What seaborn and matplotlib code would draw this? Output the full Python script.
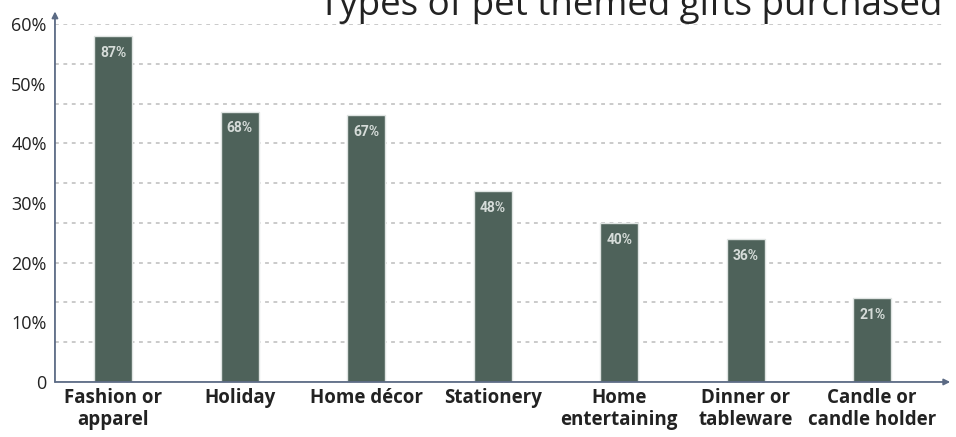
import matplotlib
matplotlib.use("Agg")
import matplotlib.pyplot as plt
import seaborn as sns
import pandas as pd

# Share of respondents buying each kind of pet-themed gift
categories = ["Fashion or\napparel", "Holiday", "Home décor", "Stationery",
              "Home\nentertaining", "Dinner or\ntableware", "Candle or\ncandle holder"]
values = [87, 68, 67, 48, 40, 36, 21]
value_labels = ["87%", "68%", "67%", "48%", "40%", "36%", "21%"]

# Axis scale: dashed guides every 10 units, labelled ticks every 15 units
grid_positions = [10, 20, 30, 40, 50, 60, 70, 80, 90]
tick_positions = [0, 15, 30, 45, 60, 75, 90]
tick_labels = ["0", "10%", "20%", "30%", "40%", "50%", "60%"]

title = "Types of pet themed gifts purchased"

bar_color = "#4e625a"
axis_color = "#5b6a84"

sns.set_theme(style="white")
plt.rcParams["font.family"] = ["Open Sans", "DejaVu Sans"]

df = pd.DataFrame({"category": categories, "value": values})

fig = plt.figure(figsize=(9.56, 4.37), dpi=100)
ax = fig.add_axes([0.0575, 0.1259, 0.9290, 0.8192])

sns.barplot(data=df, x="category", y="value", color=bar_color, width=0.30,
            saturation=1, edgecolor="#dfe4e2", linewidth=1.0, ax=ax, zorder=3)

ax.set_xlim(-0.46, 6.56)
ax.set_ylim(0, 90)

# Dashed horizontal guides
for g in grid_positions:
    ax.axhline(g, color="#bcbcbc", linestyle=(0, (2.5, 3)), linewidth=1.1, zorder=1)

ax.set_yticks(tick_positions)
ax.set_yticklabels(tick_labels, fontsize=13, color="#222222")
ax.tick_params(axis="y", length=0, pad=6)
ax.tick_params(axis="x", length=0, pad=4.5)
for lbl in ax.get_xticklabels():
    lbl.set_fontsize(13.5)
    lbl.set_fontweight("bold")
    lbl.set_color("#222222")
    lbl.set_linespacing(1.15)
ax.set_xlabel("")
ax.set_ylabel("")

for side in ["top", "right", "left", "bottom"]:
    ax.spines[side].set_visible(False)

# Axis lines with arrow heads
ax.annotate("", xy=(0, 1.035), xytext=(0, 0), xycoords="axes fraction",
            arrowprops=dict(arrowstyle="-|>", color=axis_color, lw=1.3,
                            mutation_scale=9, shrinkA=0, shrinkB=0),
            annotation_clip=False)
ax.annotate("", xy=(1.008, 0), xytext=(0, 0), xycoords="axes fraction",
            arrowprops=dict(arrowstyle="-|>", color=axis_color, lw=1.3,
                            mutation_scale=9, shrinkA=0, shrinkB=0),
            annotation_clip=False)

# Value labels inside the top of each bar
for i, (v, txt) in enumerate(zip(values, value_labels)):
    ax.annotate(txt, xy=(i, v), xytext=(0, -7), textcoords="offset points",
                ha="center", va="top", fontsize=10, fontweight="bold",
                color="#d6dcd9", family=["Roboto", "DejaVu Sans"], zorder=4)

fig.text(0.9855, 1 - 15 / 437, title, ha="right", va="baseline",
         fontsize=26.5, color="#222222")

fig.savefig("out.png", dpi=100)
